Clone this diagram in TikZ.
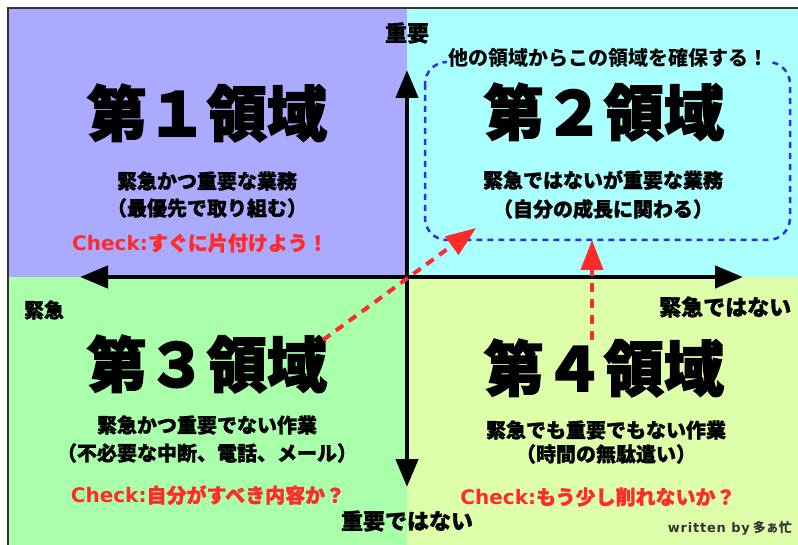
\documentclass[tikz,border=0pt]{standalone}
\usepackage{fontspec}
\setmainfont{Noto Sans CJK JP}
\newfontfamily\heavyjp{Noto Sans CJK JP}[BoldFeatures={FakeBold=2.5}]
\newfontfamily\medjp{Noto Sans CJK JP}[BoldFeatures={FakeBold=1.2}]
\newfontfamily\latinchk{DejaVu Sans}[UprightFont=* Bold, BoldFont=* Bold]
\newfontfamily\latinauth{DejaVu Sans}[UprightFont=* Bold, BoldFont=* Bold, LetterSpace=6]
\usetikzlibrary{arrows.meta}
\definecolor{qone}{HTML}{AAAAFF}
\definecolor{qtwo}{HTML}{AAFFFF}
\definecolor{qthree}{HTML}{AAFFAA}
\definecolor{qfour}{HTML}{DDFFAA}
\definecolor{chkred}{HTML}{FF2A2A}
\definecolor{dashblue}{HTML}{2F2FEE}
\definecolor{frame}{HTML}{333333}
\newcommand{\chkword}{{\latinchk Check:}}
\begin{document}
\begin{tikzpicture}[x=1pt,y=-1pt,
  title/.style={font=\fontsize{60}{64}\selectfont\heavyjp\bfseries, inner sep=0},
  sub/.style={font=\fontsize{20}{22}\selectfont\medjp\bfseries, inner sep=0},
  chk/.style={font=\fontsize{20}{22}\selectfont\medjp\bfseries, inner sep=0, text=chkred},
  axlabel/.style={font=\fontsize{22}{24}\selectfont\medjp\bfseries, inner sep=0},
  axis/.style={line width=4.5pt, {Triangle[length=28pt,width=22pt]}-{Triangle[length=28pt,width=22pt]}},
  redarrow/.style={chkred, line width=4pt, dash pattern=on 9pt off 7pt, -{Triangle[length=30pt,width=22pt]}},
  bluebox/.style={dashblue, line width=2.5pt, dash pattern=on 6pt off 5pt, rounded corners=22pt}
]
\useasboundingbox (0,0) rectangle (798,545);
% quadrants
\fill[qone] (8,8) rectangle (407,277);
\fill[qtwo] (407,8) rectangle (798,277);
\fill[qthree] (8,277) rectangle (407,545);
\fill[qfour] (407,277) rectangle (798,545);
\draw[frame, line width=2pt] (8,545) -- (8,8) -- (798,8);

% Q2 dashed box
\draw[bluebox] (425,62) rectangle (790,240);
\node[fill=qtwo, inner sep=1pt, font=\fontsize{20}{22}\selectfont\bfseries] (goal) at (608,58) {他の領域からこの領域を確保する！};

% axes
\coordinate (top) at (407,70);
\coordinate (bot) at (407,487);
\coordinate (lft) at (80,277);
\coordinate (rgt) at (743,277);
\draw[axis] (bot) -- (top);
\draw[axis] (lft) -- (rgt);

% axis labels
\node[axlabel] (imp) at (407,33) {重要};
\node[axlabel] (notimp) at (407,521) {重要ではない};
\node[font=\fontsize{20}{22}\selectfont\medjp\bfseries, inner sep=0] (urg) at (44,310) {緊急};
\node[axlabel, anchor=west] (noturg) at (659,307) {緊急ではない};

% Q1
\node[title] (t1) at (207,113) {第１領域};
\node[sub] (s1a) at (207,181) {緊急かつ重要な業務};
\node[sub] (s1b) at (207,208) {（最優先で取り組む）};
\node[chk] (c1) at (200,243) {\chkword すぐに片付けよう！};

% Q2
\node[title] (t2) at (604,112) {第２領域};
\node[sub] (s2a) at (603,180) {緊急ではないが重要な業務};
\node[sub] (s2b) at (603,209) {（自分の成長に関わる）};

% Q3
\node[title] (t3) at (207,364) {第３領域};
\node[sub] (s3a) at (207,425) {緊急かつ重要でない作業};
\node[sub] (s3b) at (207,453) {（不必要な中断、電話、メール）};
\node[chk] (c3) at (208,495) {\chkword 自分がすべき内容か？};

% Q4
\node[title] (t4) at (604,368) {第４領域};
\node[sub] (s4a) at (606,430) {緊急でも重要でもない作業};
\node[sub] (s4b) at (606,454) {（時間の無駄遣い）};
\node[chk] (c4) at (598,497) {\chkword もう少し削れないか？};

\node[font=\fontsize{13}{15}\selectfont\bfseries, inner sep=0, text=black!80, anchor=east] (auth) at (792,528) {{\latinauth written by} 多ぁ忙};

% red arrows
\coordinate (a3) at (323,340);
\coordinate (a2) at (476,228);
\coordinate (a4) at (592,340);
\coordinate (a2b) at (592,240);
\draw[redarrow] (a3) -- (a2);
\draw[redarrow] (a4) -- (a2b);
\end{tikzpicture}
\end{document}
